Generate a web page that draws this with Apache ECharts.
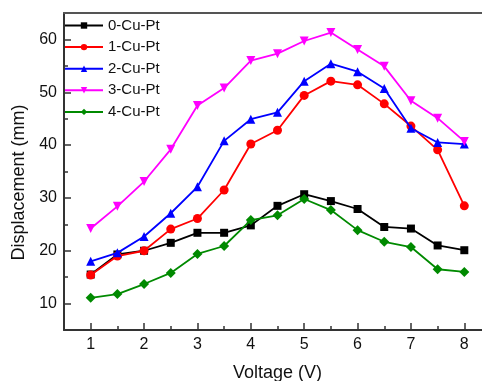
<!DOCTYPE html>
<html>
<head>
<meta charset="utf-8">
<script src="https://cdn.jsdelivr.net/npm/echarts@6/dist/echarts.min.js"></script>
<style>html,body{margin:0;padding:0;background:#fff;}#c{width:482px;height:381px;}</style>
</head>
<body>
<div id="c"></div>
<script>
const voltage = [1, 1.5, 2, 2.5, 3, 3.5, 4, 4.5, 5, 5.5, 6, 6.5, 7, 7.5, 8];
const cu0 = [15.5, 19.3, 20.0, 21.5, 23.4, 23.4, 24.8, 28.5, 30.7, 29.4, 27.9, 24.5, 24.2, 21.0, 20.1];
const cu1 = [15.4, 19.0, 20.0, 24.1, 26.1, 31.5, 40.2, 42.8, 49.4, 52.1, 51.4, 47.8, 43.6, 39.1, 28.5];
const cu2 = [18.0, 19.6, 22.7, 27.1, 32.1, 40.8, 44.9, 46.2, 52.1, 55.4, 53.9, 50.7, 43.2, 40.5, 40.2];
const cu3 = [24.2, 28.4, 33.1, 39.2, 47.5, 50.8, 56.0, 57.3, 59.7, 61.3, 58.1, 54.9, 48.4, 45.1, 40.7];
const cu4 = [11.1, 11.8, 13.7, 15.8, 19.4, 20.9, 25.8, 26.7, 29.8, 27.7, 23.9, 21.7, 20.7, 16.5, 16.0];
const seriesNames = ['0-Cu-Pt', '1-Cu-Pt', '2-Cu-Pt', '3-Cu-Pt', '4-Cu-Pt'];
const xMajor = [1, 2, 3, 4, 5, 6, 7, 8];
const xMinor = [1.5, 2.5, 3.5, 4.5, 5.5, 6.5, 7.5];
const yMajor = [10, 20, 30, 40, 50, 60];
const yMinor = [15, 25, 35, 45, 55];

const values = [cu0, cu1, cu2, cu3, cu4];
const colors = ['#000000', '#ff0000', '#0000ff', '#ff00ff', '#008a00'];
const symbols = ['rect', 'circle', 'triangle', 'triangle', 'diamond'];
const rotations = [0, 0, 0, 180, 0];
const sizes = [8, 9, 9, 9, 10];
const font = 'Arial, "Liberation Sans", sans-serif';
const axisColor = '#333';
const gridBox = { left: 64, top: 13, bottom: 51, right: -9, outerBoundsMode: 'none', containLabel: false };
const clear = 'rgba(0,0,0,0)';

const lineSeries = values.map((vals, i) => ({
  name: seriesNames[i],
  type: 'line',
  xAxisIndex: 0, yAxisIndex: 0,
  data: voltage.map((v, j) => [v, vals[j]]),
  symbol: symbols[i],
  symbolRotate: rotations[i],
  symbolSize: sizes[i],
  showAllSymbol: true,
  color: colors[i],
  lineStyle: { color: colors[i], width: 1.8 },
  itemStyle: { color: colors[i] },
  z: 2 + i
}));
// empty helper series so the minor-tick grid is laid out and drawn
lineSeries.push({ type: 'line', xAxisIndex: 2, yAxisIndex: 1, data: [], silent: true });

const chart = echarts.init(document.getElementById('c'));
chart.setOption({
  animation: false,
  textStyle: { fontFamily: font },
  grid: [Object.assign({}, gridBox), Object.assign({}, gridBox)],
  legend: {
    left: 64, top: 18, orient: 'vertical', padding: 0,
    itemWidth: 38, itemHeight: 8, itemGap: 6.6,
    textStyle: { fontSize: 15, color: '#111', fontFamily: font },
    data: seriesNames
  },
  xAxis: [
    {
      gridIndex: 0, type: 'value', min: 0.5, max: 8.5, position: 'bottom',
      name: 'Voltage (V)', nameLocation: 'middle', nameGap: 34,
      nameTextStyle: { fontSize: 18, color: '#111', fontFamily: font },
      axisLine: { show: true, lineStyle: { color: axisColor, width: 2 } },
      axisTick: { show: true, inside: true, length: 7, customValues: xMajor, lineStyle: { color: axisColor, width: 1.5 } },
      axisLabel: { customValues: xMajor, fontSize: 16, color: '#111', margin: 7, fontFamily: font },
      splitLine: { show: false }
    },
    {
      gridIndex: 0, type: 'value', min: 0.5, max: 8.5, position: 'top',
      axisLine: { show: true, lineStyle: { color: '#555', width: 2 } },
      axisTick: { show: false },
      axisLabel: { show: false },
      splitLine: { show: false }
    },
    {
      gridIndex: 1, type: 'value', min: 0.5, max: 8.5, position: 'bottom',
      axisLine: { show: true, lineStyle: { color: clear } },
      axisTick: { show: true, inside: true, length: 4, customValues: xMinor, lineStyle: { color: axisColor, width: 1.5 } },
      axisLabel: { show: true, customValues: xMinor, color: clear },
      splitLine: { show: false }
    }
  ],
  yAxis: [
    {
      gridIndex: 0, type: 'value', min: 5, max: 65, position: 'left',
      name: 'Displacement (mm)', nameLocation: 'middle', nameGap: 30,
      nameTextStyle: { fontSize: 18, color: '#111', fontFamily: font, padding: [0, 22, 0, 0] },
      axisLine: { show: true, lineStyle: { color: axisColor, width: 2 } },
      axisTick: { show: true, inside: true, length: 7, customValues: yMajor, lineStyle: { color: axisColor, width: 1.5 } },
      axisLabel: { customValues: yMajor, fontSize: 16, color: '#111', margin: 7, fontFamily: font },
      splitLine: { show: false }
    },
    {
      gridIndex: 1, type: 'value', min: 5, max: 65, position: 'left',
      axisLine: { show: true, lineStyle: { color: clear } },
      axisTick: { show: true, inside: true, length: 4, customValues: yMinor, lineStyle: { color: axisColor, width: 1.5 } },
      axisLabel: { show: true, customValues: yMinor, color: clear },
      splitLine: { show: false }
    }
  ],
  series: lineSeries
});
</script>
</body>
</html>
